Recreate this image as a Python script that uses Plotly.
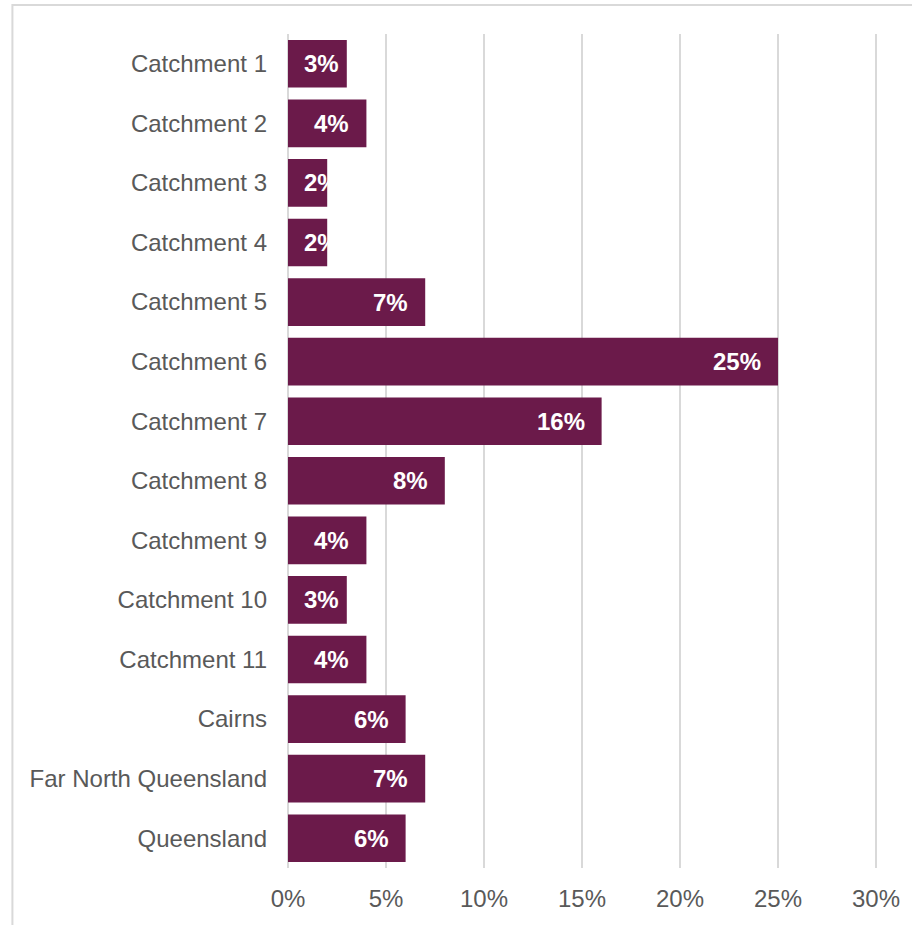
import plotly.graph_objects as go

# Share of population by area (%)
categories = [
    "Catchment 1", "Catchment 2", "Catchment 3", "Catchment 4", "Catchment 5",
    "Catchment 6", "Catchment 7", "Catchment 8", "Catchment 9", "Catchment 10",
    "Catchment 11", "Cairns", "Far North Queensland", "Queensland",
]
values = [3, 4, 2, 2, 7, 25, 16, 8, 4, 3, 4, 6, 7, 6]
tick_vals = [0, 5, 10, 15, 20, 25, 30]
tick_text = ["0%", "5%", "10%", "15%", "20%", "25%", "30%"]

BAR = "#6B1A4A"
GREY_TEXT = "#595959"
GRID = "#D9D9D9"
FONT = "Liberation Sans, Arial, sans-serif"

fig = go.Figure(
    go.Bar(
        x=values,
        y=categories,
        orientation="h",
        marker=dict(color=BAR, line=dict(width=0)),
        hoverinfo="skip",
    )
)

# Value labels: inside the bar end; short bars get the label from the bar start
annotations = []
for cat, v in zip(categories, values):
    if v >= 3.5:
        annotations.append(dict(x=v, y=cat, xref="x", yref="y", text=f"<b>{v}%</b>",
                                showarrow=False, xanchor="right", xshift=-15,
                                font=dict(family=FONT, size=24, color="white")))
    else:
        annotations.append(dict(x=0, y=cat, xref="x", yref="y", text=f"<b>{v}%</b>",
                                showarrow=False, xanchor="left", xshift=14,
                                font=dict(family=FONT, size=24, color="white")))

fig.update_layout(
    width=912,
    height=925,
    margin=dict(l=288, r=31, t=34, b=57),
    paper_bgcolor="white",
    plot_bgcolor="white",
    bargap=0.2,
    showlegend=False,
    font=dict(family=FONT, size=24, color=GREY_TEXT),
    annotations=annotations,
    xaxis=dict(
        range=[0, 30.1],
        tickvals=tick_vals,
        ticktext=tick_text,
        showgrid=True,
        gridcolor=GRID,
        gridwidth=2,
        zeroline=True,
        zerolinecolor=GRID,
        zerolinewidth=2,
        showline=False,
        ticks="",
        ticklabelstandoff=14,
        tickfont=dict(family=FONT, size=24, color=GREY_TEXT),
        fixedrange=True,
    ),
    yaxis=dict(
        autorange="reversed",
        showgrid=False,
        zeroline=False,
        showline=False,
        ticks="",
        ticklabelstandoff=20,
        tickfont=dict(family=FONT, size=24, color=GREY_TEXT),
        fixedrange=True,
    ),
    shapes=[
        # chart frame
        dict(type="rect", xref="paper", yref="paper",
             x0=-0.4671, x1=1.2, y0=-0.3, y1=1.0348,
             line=dict(color=GRID, width=2), fillcolor="rgba(0,0,0,0)", layer="below"),
    ],
)

fig.write_html("out.html", config={"displayModeBar": False})
